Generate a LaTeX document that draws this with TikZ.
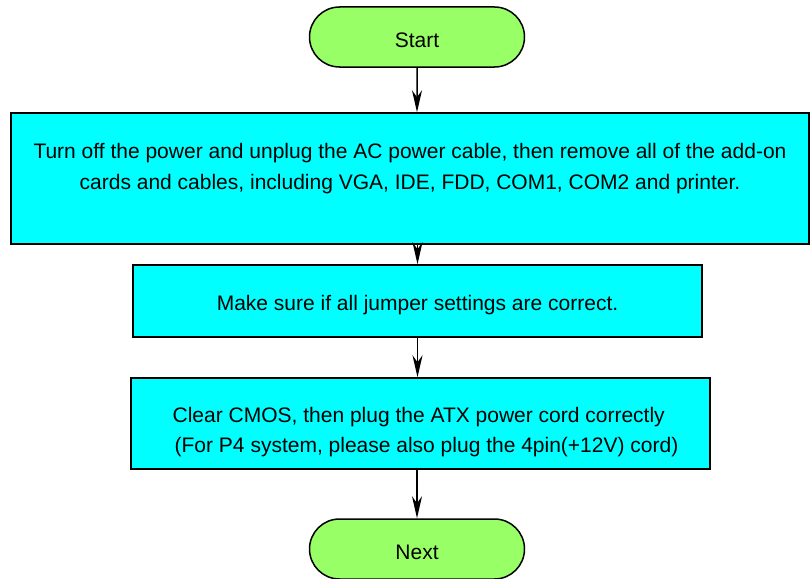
\documentclass[tikz,border=0pt]{standalone}
\usepackage{fontspec}
\setmainfont{Liberation Sans}
\usetikzlibrary{shapes.misc,arrows.meta}
\definecolor{termgreen}{HTML}{99FF66}
\definecolor{stepcyan}{HTML}{00FFFF}

\begin{document}
\begin{tikzpicture}[x=1pt, y=-1pt,
        terminal/.style={rounded rectangle, draw, fill=termgreen, line width=1.5pt,
            minimum width=215pt, minimum height=60pt, inner sep=0pt,
            font=\fontsize{21}{25}\selectfont},
        stepbox/.style={rectangle, draw, fill=stepcyan, line width=1.5pt,
            inner sep=0pt, align=center, font=\fontsize{21}{31}\selectfont},
        flow/.style={-{Stealth[length=22pt, width=10pt, inset=7pt]}, line width=1.5pt}]
        % 1. Fix the frame of the picture
        \useasboundingbox (0,0) rectangle (810,578);

        % 2. Start and end terminals
        \node[terminal] (start) at (417,37) {\rule{0pt}{21pt}Start};
        \node[terminal] (next) at (417,549) {\rule{0pt}{21pt}Next};

        % 3. Process boxes
        \node[stepbox, minimum width=798pt, minimum height=131pt] (unplug) at (410,178.5)
            {\rule{0pt}{31pt}Turn off the power and unplug the AC power cable, then remove all of the add-on\\
             cards and cables, including VGA, IDE, FDD, COM1, COM2 and printer.\\ \strut};
        \node[stepbox, minimum width=569pt, minimum height=72pt] (jumper) at (417.5,301)
            {\rule{0pt}{23pt}Make sure if all jumper settings are correct.};
        \node[stepbox, minimum width=579pt, minimum height=91pt, align=left,
            font=\fontsize{21}{30}\selectfont] (cmos) at (420.5,423.5)
            {\rule{0pt}{33pt}\hspace*{10pt}Clear CMOS, then plug the ATX power cord correctly\\
             \hspace*{12pt}(For P4 system, please also plug the 4pin(+12V) cord)};

        % 4. Connectors
        \draw[flow] (start) -- (start |- unplug.north);
        \draw[flow] (jumper |- unplug.south) -- (jumper.north);
        \draw[flow] (jumper.south) -- (jumper.south |- cmos.north);
        \draw[flow] (next |- cmos.south) -- (next.north);
    \end{tikzpicture}
\end{document}
